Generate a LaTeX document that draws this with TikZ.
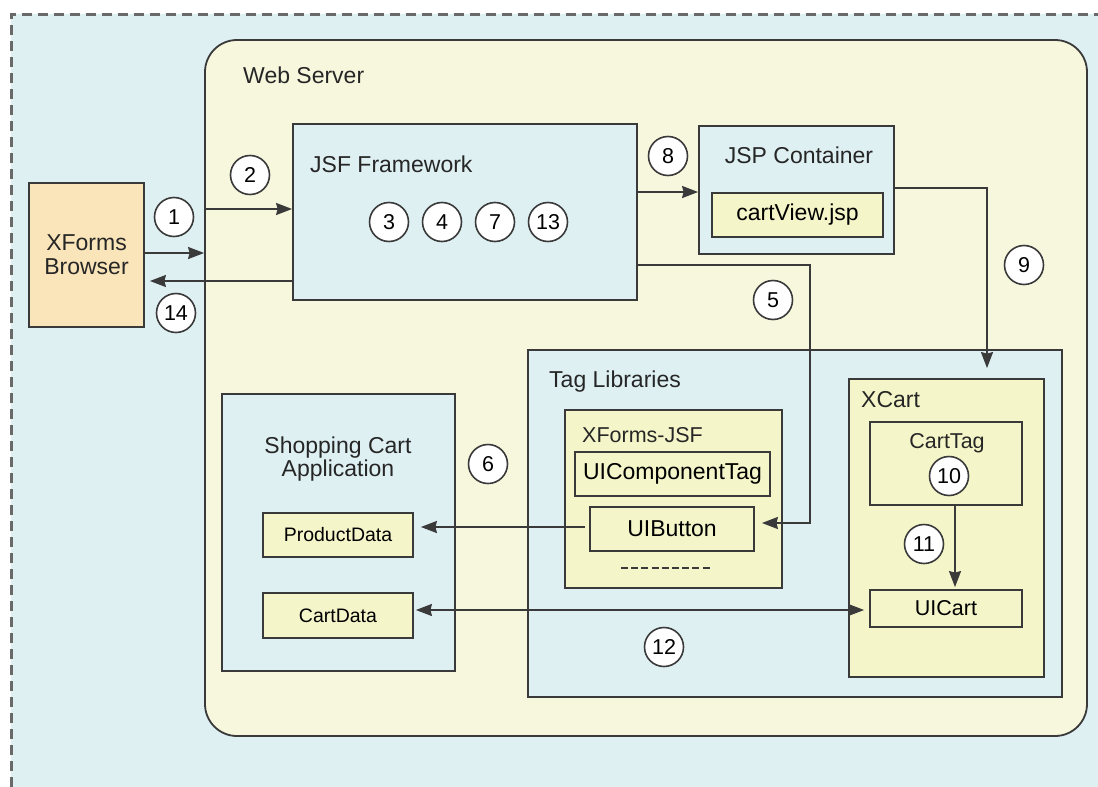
\documentclass[tikz,border=0pt]{standalone}
\usepackage{fontspec}
\setmainfont{Liberation Sans}
\usetikzlibrary{arrows.meta,calc}

\definecolor{paneblue}{RGB}{223,240,243}
\definecolor{servercream}{RGB}{247,247,222}
\definecolor{libyellow}{RGB}{244,245,200}
\definecolor{browserpeach}{RGB}{249,229,185}
\definecolor{edgegray}{RGB}{58,58,58}
\definecolor{dashgray}{RGB}{105,105,105}

\newcommand{\fsmain}{\fontsize{23}{24}\selectfont}
\newcommand{\fsmid}{\fontsize{21.5}{22}\selectfont}
\newcommand{\fssmall}{\fontsize{19.5}{20}\selectfont}
\newcommand{\fsnum}{\fontsize{21.5}{21.5}\selectfont}

\tikzset{
  box/.style={draw=edgegray, line width=1.8pt, rectangle, inner sep=0pt},
  bluebox/.style={box, fill=paneblue},
  yellowbox/.style={box, fill=libyellow},
  title/.style={inner sep=0pt, text=black!85, font=\fsmain},
  stepnum/.style={circle, draw=edgegray, line width=1.6pt, fill=white,
                  minimum size=39pt, inner sep=0pt, font=\fsnum},
  arr/.style={draw=edgegray, line width=1.9pt, -{Stealth[length=16pt,width=12pt,inset=1.5pt]}},
  biarr/.style={draw=edgegray, line width=1.9pt,
              {Stealth[length=16pt,width=12pt,inset=1.5pt]}-{Stealth[length=16pt,width=12pt,inset=1.5pt]}},
}

\begin{document}
\begin{tikzpicture}[x=1pt, y=-1pt]
\useasboundingbox (0,0) rectangle (1098,787);

% outer pane with its dashed top and left edges
\fill[paneblue] (11,14) rectangle (1098,787);
\draw[dashgray, line width=3pt, dash pattern=on 10pt off 6pt] (11,787) -- (11,14) -- (1098,14);

% web server
\node[box, fill=servercream, rounded corners=32pt, minimum width=882pt, minimum height=696pt] (web) at (646,388) {};
\node[title, anchor=base west] (webtitle) at (243,83) {Web Server};

% browser
\node[box, fill=browserpeach, minimum width=115pt, minimum height=144pt,
      align=center, font=\fsmain, text=black!85] (browser) at (86.5,255) {XForms\\Browser};

% JSF framework
\node[bluebox, minimum width=344pt, minimum height=176pt] (jsf) at (465,212) {};
\node[title, anchor=base west] (jsftitle) at (310,172) {JSF Framework};

% JSP container
\node[bluebox, minimum width=195pt, minimum height=128pt] (jsp) at (796.5,190) {};
\node[title, anchor=base] (jsptitle) at (799,163) {JSP Container};
\node[yellowbox, minimum width=171pt, minimum height=44pt, font=\fsmain] (cartview) at (797.5,215) {cartView.jsp};

% tag libraries
\node[bluebox, minimum width=534pt, minimum height=347pt] (taglib) at (795,523.5) {};
\node[title, anchor=base west] (tagtitle) at (549,387) {Tag Libraries};

% XForms-JSF library
\node[yellowbox, minimum width=217pt, minimum height=178pt] (xfjsf) at (673.5,499) {};
\node[title, font=\fsmid, anchor=base west] (xfjsftitle) at (582,442) {XForms-JSF};
\node[yellowbox, minimum width=195pt, minimum height=44pt, font=\fsmain] (uicomp) at (672.5,474) {UIComponentTag};
\node[yellowbox, minimum width=164pt, minimum height=44pt, font=\fsmain] (uibutton) at (672,529) {UIButton};
\draw[edgegray, line width=1.4pt, dash pattern=on 7pt off 3.2pt] (621,568) -- (711,568);

% XCart library
\node[yellowbox, minimum width=195pt, minimum height=298pt] (xcart) at (946.5,528) {};
\node[title, anchor=base west] (xcarttitle) at (861,407) {XCart};
\node[yellowbox, minimum width=152pt, minimum height=83pt] (carttag) at (946,463.5) {};
\node[title, font=\fsmid, anchor=base] (carttagtitle) at (947,448) {CartTag};
\node[yellowbox, minimum width=152pt, minimum height=37pt, font=\fsmid] (uicart) at (946,608.5) {UICart};

% shopping cart application
\node[bluebox, minimum width=233pt, minimum height=277pt] (shop) at (338.5,532.5) {};
\node[title, align=center] (shoptitle) at (338,459) {Shopping Cart\\[-1pt]Application};
\node[yellowbox, minimum width=150pt, minimum height=44pt, font=\fssmall] (product) at (338,535) {ProductData};
\node[yellowbox, minimum width=150pt, minimum height=45pt, font=\fssmall] (cartdata) at (338,615.5) {CartData};

% request / response flow
\draw[arr] (browser.east |- 0,253) -- (web.west |- 0,253);
\draw[arr] (web.west |- 0,209) -- (jsf.west |- 0,209);
\draw[arr, shorten >=5pt] (jsf.west |- 0,281) -- (browser.east |- 0,281);
\draw[arr] (jsf.east |- 0,192) -- (jsp.west |- 0,192);
\coordinate (bend9) at (987,188);
\draw[arr, shorten >=10pt] (jsp.east |- bend9) -- (bend9) -- (xcart.north -| bend9);
\coordinate (bend5a) at (810,265);
\coordinate (bend5b) at (810,523);
\draw[arr, shorten >=7pt] (jsf.east |- bend5a) -- (bend5a) -- (bend5b) -- (uibutton.east |- bend5b);
\draw[arr, shorten <=4pt, shorten >=7pt] (uibutton.west |- 0,527) -- (product.east |- 0,527);
\draw[biarr, shorten <=2pt, shorten >=5pt] (cartdata.east |- 0,610) -- (uicart.west |- 0,610);
\draw[arr, shorten >=2pt] (carttag.south -| 955,0) -- (uicart.north -| 955,0);

% step numbers
\node[stepnum] (n1) at (174,217) {1};
\node[stepnum] (n2) at (250,175) {2};
\node[stepnum] (n14) at (176,313) {14};
\node[stepnum] (n3) at (389,222) {3};
\node[stepnum] (n4) at (442,222) {4};
\node[stepnum] (n7) at (495,222) {7};
\node[stepnum] (n13) at (548,222) {13};
\node[stepnum] (n8) at (668,156) {8};
\node[stepnum] (n9) at (1024,265) {9};
\node[stepnum] (n5) at (773,300) {5};
\node[stepnum] (n6) at (488,464) {6};
\node[stepnum] (n10) at (949,476) {10};
\node[stepnum] (n11) at (924,544) {11};
\node[stepnum] (n12) at (664,647) {12};
\end{tikzpicture}
\end{document}
